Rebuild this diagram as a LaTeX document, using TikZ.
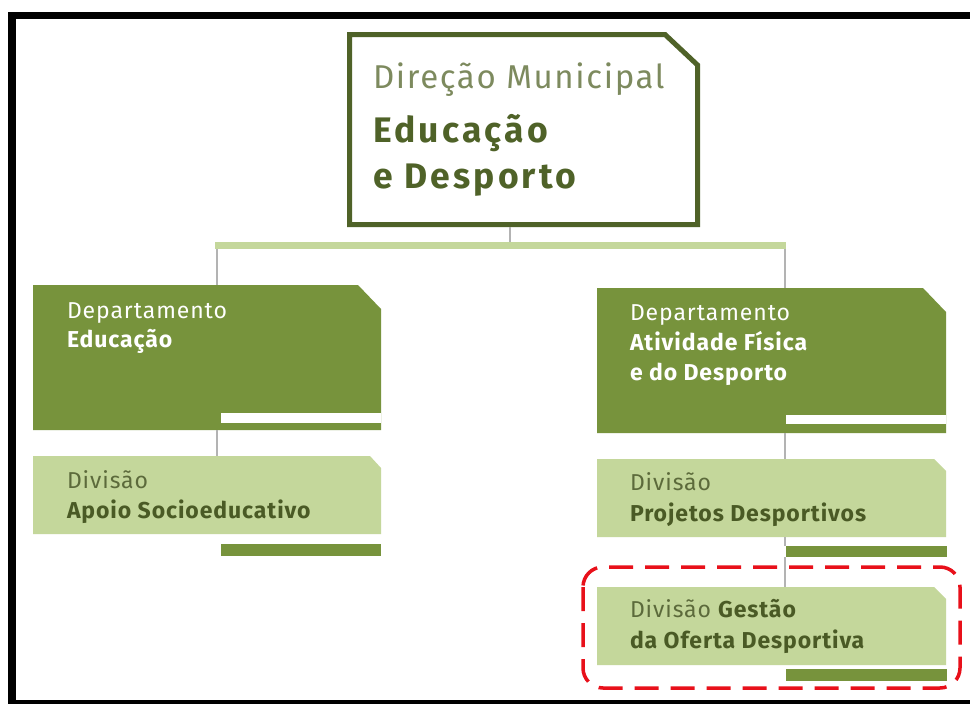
\documentclass[tikz,border=0pt]{standalone}
\usepackage{fontspec}
\setmainfont{Fira Sans}
\newfontfamily\topfont[LetterSpace=5]{Fira Sans}
\newfontfamily\topboldfont[LetterSpace=9]{Fira Sans}
\newfontfamily\boxfont[LetterSpace=4]{Fira Sans}
\definecolor{darkolive}{HTML}{4F6228}
\definecolor{midgreen}{HTML}{77933C}
\definecolor{lightgreen}{HTML}{C4D79B}
\definecolor{linkgray}{HTML}{B3B3B3}
\definecolor{titlegray}{HTML}{7D8A5E}
\definecolor{divgray}{HTML}{5C6A3B}
\definecolor{divdark}{HTML}{4A5A25}
\definecolor{markred}{HTML}{E8101A}
\tikzset{
  anchorbox/.style={draw=none, inner sep=0, outer sep=0, minimum width=#1},
  link/.style={draw=linkgray, line width=2pt},
  txt/.style={anchor=base west, inner sep=0, outer sep=0},
  toplight/.style={txt, text=titlegray, font=\topfont\fontsize{33}{38}\selectfont},
  topbold/.style={txt, text=darkolive, font=\topboldfont\bfseries\fontsize{35.5}{40}\selectfont},
  depttxt/.style={txt, text=white, font=\boxfont\fontsize{23}{27}\selectfont},
  deptbold/.style={txt, text=white, font=\boxfont\bfseries\fontsize{23}{27}\selectfont},
  divtxt/.style={txt, text=divgray, font=\boxfont\fontsize{23}{27}\selectfont},
  divbold/.style={txt, text=divdark, font=\boxfont\bfseries\fontsize{23}{27}\selectfont},
}
\begin{document}
\begin{tikzpicture}[x=1pt,y=-1pt]
\useasboundingbox (0,0) rectangle (970,704);
\fill[white] (0,0) rectangle (970,704);
% black frame
\fill[black] (8,12) rectangle (970,19);
\fill[black] (8,12) rectangle (16,704);
\fill[black] (8,700) rectangle (970,704);

% top box
\draw[darkolive, line width=5pt, fill=white, line join=miter]
  (349.5,34.5) -- (665,34.5) -- (697.5,65) -- (697.5,224.5) -- (349.5,224.5) -- cycle;
\node[anchorbox=353pt, minimum height=195pt] (dir) at (523.5,129.5) {};

% connectors to the bar
\coordinate (barM) at (510,242);
\coordinate (barL) at (217,249);
\coordinate (barR) at (785,249);
\coordinate (d1top) at (217,285);
\coordinate (d2top) at (785,288);
\draw[link] (dir.south -| barM) -- (barM);
\fill[lightgreen] (215,242) rectangle (786,249);
\draw[link] (barL) -- (d1top);
\draw[link] (barR) -- (d2top);

% department left
\fill[midgreen] (33,285) -- (358,285) -- (381,309) -- (381,430) -- (33,430) -- cycle;
\fill[white] (221,413) rectangle (381,423);
\node[anchorbox=348pt, minimum height=145pt] (dep1) at (207,357.5) {};
% department right
\fill[midgreen] (597,288) -- (923,288) -- (946,312) -- (946,433) -- (597,433) -- cycle;
\fill[white] (786,415) rectangle (946,424);
\node[anchorbox=349pt, minimum height=145pt] (dep2) at (771.5,360.5) {};

% division left
\fill[lightgreen] (33,456) -- (370,456) -- (381,468) -- (381,534) -- (33,534) -- cycle;
\fill[midgreen] (221,544) rectangle (381,556);
\node[anchorbox=348pt, minimum height=78pt] (div1) at (207,495) {};
% division right 1
\fill[lightgreen] (597,459) -- (934,459) -- (946,471) -- (946,537) -- (597,537) -- cycle;
\fill[midgreen] (786,546) rectangle (947,557);
\node[anchorbox=349pt, minimum height=78pt] (div2) at (771.5,498) {};
% division right 2
\fill[lightgreen] (597,587) -- (934,587) -- (946,599) -- (946,665) -- (597,665) -- cycle;
\fill[midgreen] (786,669) rectangle (947,681);
\node[anchorbox=349pt, minimum height=78pt] (div3) at (771.5,626) {};

% vertical links between boxes
\draw[link] (dep1.south -| d1top) -- (div1.north -| d1top);
\draw[link] (dep2.south -| d2top) -- (div2.north -| d2top);
\coordinate (g0) at (785,546);
\coordinate (g1) at (785,557);
\draw[link] (div2.south -| d2top) -- (g0);
\draw[link] (g1) -- (div3.north -| d2top);

% texts
\node[toplight] (t1) at (373,88) {Direção Municipal};
\node[topbold]  (t2) at (373,142) {Educação};
\node[topbold]  (t3) at (373,188) {e Desporto};

\node[depttxt]  (a1) at (67,318) {Departamento};
\node[deptbold] (a2) at (67,347) {Educação};

\node[depttxt]  (b1) at (630,320) {Departamento};
\node[deptbold] (b2) at (630,350) {Atividade Física};
\node[deptbold] (b3) at (630,380) {e do Desporto};

\node[divtxt]   (c1) at (67,488) {Divisão};
\node[divbold]  (c2) at (67,518) {Apoio Socioeducativo};

\node[divtxt]   (e1) at (630,490) {Divisão};
\node[divbold]  (e2) at (630,521) {Projetos Desportivos};

\node[divtxt]   (f1) at (630,617) {Divisão {\bfseries\color{divdark}Gestão}};
\node[divbold]  (f2) at (630,648) {da Oferta Desportiva};

% highlight
\draw[markred, line width=3.5pt, dash pattern=on 24pt off 12pt, rounded corners=20pt]
  (583,567) rectangle (960,688);
\end{tikzpicture}
\end{document}
